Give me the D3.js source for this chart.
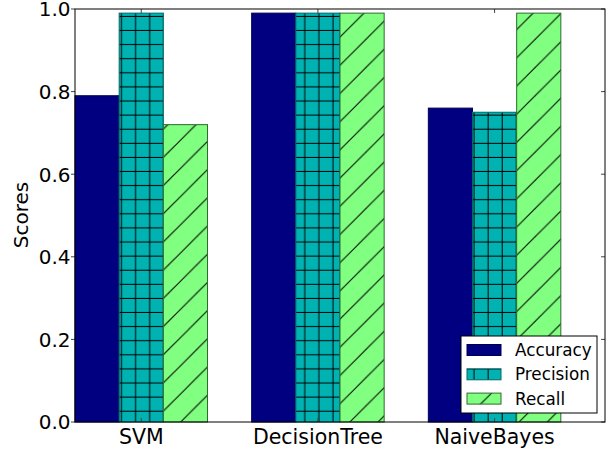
<!DOCTYPE html>
<html>
<head>
<meta charset="utf-8">
<script src="https://cdn.jsdelivr.net/npm/d3@7"></script>
<style>
  body { margin: 0; background: #fff; }
  text { font-family: "DejaVu Sans", sans-serif; fill: #000; }
</style>
</head>
<body>
<div id="chart"></div>
<script>
// Data
const categories = ["SVM", "DecisionTree", "NaiveBayes"];
const accuracy = [0.79, 0.99, 0.76];
const precision = [0.99, 0.99, 0.75];
const recall = [0.72, 0.99, 0.99];
const seriesNames = ["Accuracy", "Precision", "Recall"];
const yTicks = [0.0, 0.2, 0.4, 0.6, 0.8, 1.0];

const width = 611, height = 452;
const plot = { left: 75, right: 605, top: 9, bottom: 422 };
const barWidth = 0.25;

const svg = d3.select("#chart").append("svg")
    .attr("width", width)
    .attr("height", height);

const x = d3.scaleLinear().domain([0, 3]).range([plot.left, plot.right]);
const y = d3.scaleLinear().domain([0, 1]).range([plot.bottom, plot.top]);

// hatch patterns, tiled in page space like matplotlib
const defs = svg.append("defs");
const grid = defs.append("pattern")
    .attr("id", "hatch-plus")
    .attr("patternUnits", "userSpaceOnUse")
    .attr("width", 14.1).attr("height", 14.1);
grid.append("rect").attr("width", 14.1).attr("height", 14.1).attr("fill", "#00b2b2");
grid.append("line").attr("x1", 8.7).attr("x2", 8.7).attr("y1", 0).attr("y2", 14.1)
    .attr("stroke", "#000").attr("stroke-width", 1);
grid.append("line").attr("x1", 0).attr("x2", 14.1).attr("y1", 2.3).attr("y2", 2.3)
    .attr("stroke", "#000").attr("stroke-width", 1);

const diag = defs.append("pattern")
    .attr("id", "hatch-slash")
    .attr("patternUnits", "userSpaceOnUse")
    .attr("width", 28.2).attr("height", 28.2);
diag.append("rect").attr("width", 28.2).attr("height", 28.2).attr("fill", "#80ff80");
[10.5 - 28.2, 10.5, 10.5 + 28.2, 10.5 + 56.4].forEach(c => {
    diag.append("line")
        .attr("x1", -5).attr("y1", c + 5)
        .attr("x2", 35).attr("y2", c - 35)
        .attr("stroke", "#000").attr("stroke-width", 1);
});

const series = [
    { name: seriesNames[0], values: accuracy, fill: "#000080", edge: "#000050" },
    { name: seriesNames[1], values: precision, fill: "url(#hatch-plus)", edge: "#006868" },
    { name: seriesNames[2], values: recall, fill: "url(#hatch-slash)", edge: "#2f6a2f" }
];

// ticks (drawn first, bars go over)
const tickColor = "#444";
yTicks.forEach(t => {
    svg.append("line").attr("x1", plot.left - 4).attr("x2", plot.left)
        .attr("y1", y(t)).attr("y2", y(t)).attr("stroke", tickColor);
    svg.append("line").attr("x1", plot.right - 4).attr("x2", plot.right)
        .attr("y1", y(t)).attr("y2", y(t)).attr("stroke", tickColor);
});

// bars
series.forEach((s, si) => {
    svg.selectAll(".bar-" + si)
        .data(s.values)
        .enter().append("rect")
        .attr("class", "bar-" + si)
        .attr("x", (d, i) => x(i + si * barWidth))
        .attr("width", x(barWidth) - x(0))
        .attr("y", d => y(d))
        .attr("height", d => y(0) - y(d))
        .attr("fill", s.fill)
        .attr("stroke", s.edge)
        .attr("stroke-width", 1);
});

// top / bottom ticks at group centres
categories.forEach((c, i) => {
    const cx = x(i + 1.5 * barWidth);
    svg.append("line").attr("x1", cx).attr("x2", cx)
        .attr("y1", plot.bottom - 4).attr("y2", plot.bottom).attr("stroke", tickColor);
    svg.append("line").attr("x1", cx).attr("x2", cx)
        .attr("y1", plot.top).attr("y2", plot.top + 4).attr("stroke", tickColor);
});

// frame
svg.append("rect")
    .attr("x", plot.left).attr("y", plot.top)
    .attr("width", plot.right - plot.left)
    .attr("height", plot.bottom - plot.top)
    .attr("fill", "none").attr("stroke", "#000").attr("stroke-width", 1);

// tick labels
svg.selectAll(".ylab")
    .data(yTicks)
    .enter().append("text")
    .attr("class", "ylab")
    .attr("x", plot.left - 4.5)
    .attr("y", d => y(d) + 7.3)
    .attr("text-anchor", "end")
    .attr("font-size", "20px")
    .text(d => d.toFixed(1));

svg.selectAll(".xlab")
    .data(categories)
    .enter().append("text")
    .attr("class", "xlab")
    .attr("x", (d, i) => x(i + 1.5 * barWidth))
    .attr("y", 444)
    .attr("text-anchor", "middle")
    .attr("font-size", "20.5px")
    .text(d => d);

svg.append("text")
    .attr("transform", "translate(27.5,215) rotate(-90)")
    .attr("text-anchor", "middle")
    .attr("font-size", "20px")
    .text("Scores");

// legend
const legend = svg.append("g");
legend.append("rect")
    .attr("x", 461).attr("y", 336)
    .attr("width", 136).attr("height", 77)
    .attr("fill", "#fff").attr("stroke", "#000").attr("stroke-width", 1);
series.forEach((s, i) => {
    const cy = 350 + i * 24.3;
    legend.append("rect")
        .attr("x", 467).attr("y", cy - 5.5)
        .attr("width", 34).attr("height", 11)
        .attr("fill", s.fill).attr("stroke", s.edge).attr("stroke-width", 1);
    legend.append("text")
        .attr("x", 515).attr("y", cy + 6)
        .attr("font-size", "16.8px")
        .text(s.name);
});
</script>
</body>
</html>
